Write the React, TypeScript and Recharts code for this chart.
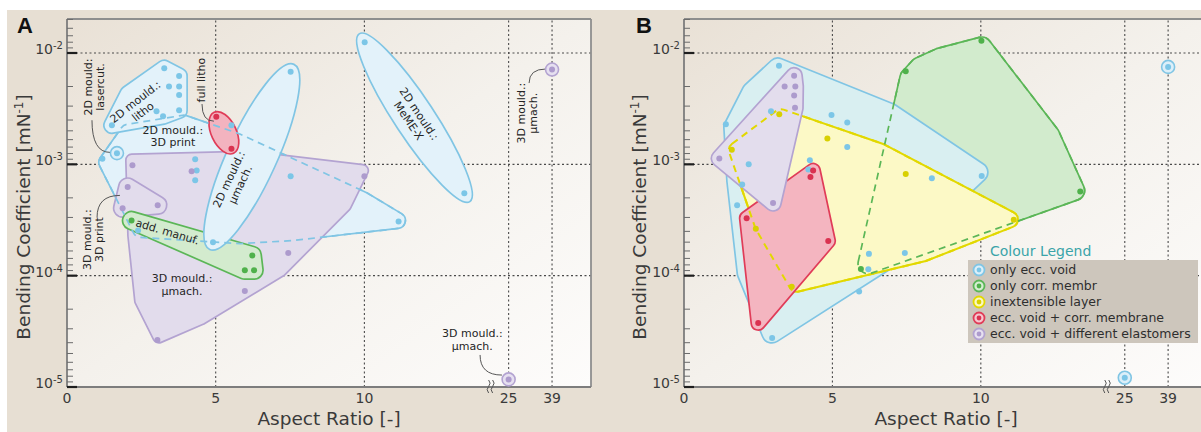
import React from 'react';
import { ScatterChart, Scatter, XAxis, YAxis, ReferenceLine, ReferenceArea, Legend } from 'recharts';

type P = { x: number; y: number };

const FONT = '"DejaVu Sans", Verdana, sans-serif';

// ---------- axes ----------
const X_TICK_LABELS = [0, 5, 10, 25, 39];
const X_GRID = [5, 10, 25, 39];
const Y_MAJOR = [1e-5, 1e-4, 1e-3, 1e-2];
const Y_MINOR_DIVISORS = [2, 3, 4, 5, 6, 7, 8, 9];
const Y_GRID = [1e-4, 1e-3, 1e-2];
const Y_MIN = 1e-5;
const Y_MAX = 0.0202;
const X_MAX = 17.62; // axis units (broken axis)

// broken x axis: 0..14 linear, then compressed to reach 25 and 39
function ax(x: number): number {
  if (x <= 14) return x;
  if (x <= 25) return 14 + ((x - 14) * 0.85) / 11;
  return 14.85 + ((x - 25) * 1.46) / 14;
}

const Y_TICKS: number[] = (() => {
  const t: number[] = [...Y_MAJOR];
  [1e-4, 1e-3, 1e-2, 1e-1].forEach((top) =>
    Y_MINOR_DIVISORS.forEach((k) => {
      const v = top / k;
      if (v > Y_MIN * 1.0001 && v < Y_MAX) t.push(v);
    })
  );
  return t.sort((a, b) => a - b);
})();

// ---------- panel A data ----------
const A_LITHO_DOTS: P[] = [
  { x: 3.27, y: 7.3e-3 }, { x: 3.77, y: 6.2e-3 }, { x: 3.43, y: 5.0e-3 }, { x: 3.77, y: 5.0e-3 },
  { x: 3.77, y: 4.2e-3 }, { x: 3.77, y: 3.06e-3 }, { x: 3.01, y: 3.0e-3 }, { x: 3.23, y: 2.7e-3 },
  { x: 1.51, y: 2.24e-3 },
];
const A_LITHO_EXTRA: P[] = [{ x: 2.05, y: 4.3e-3 }, { x: 1.75, y: 3.0e-3 }];
const A_PRINT_DOTS: P[] = [
  { x: 1.19, y: 1.12e-3 }, { x: 4.31, y: 1.11e-3 }, { x: 4.36, y: 8.8e-4 }, { x: 4.31, y: 7.2e-4 },
  { x: 7.52, y: 7.8e-4 }, { x: 11.15, y: 3.06e-4 }, { x: 2.39, y: 2.54e-4 },
];
const A_UMACH2D_AXIS: P[] = [{ x: 7.52, y: 6.8e-3 }, { x: 4.91, y: 2.0e-4 }];
const A_UMACH2D_EXTRA_DOTS: P[] = [{ x: 5.53, y: 2.24e-3 }];
const A_MEMEX_AXIS: P[] = [{ x: 10.01, y: 1.25e-2 }, { x: 13.36, y: 5.5e-4 }];
const A_FULLLITHO_AXIS: P[] = [{ x: 5.02, y: 2.67e-3 }, { x: 5.53, y: 1.38e-3 }];
const A_UMACH3D_DOTS: P[] = [
  { x: 2.2, y: 9.8e-4 }, { x: 4.19, y: 8.65e-4 }, { x: 10.0, y: 7.8e-4 }, { x: 7.44, y: 1.6e-4 },
  { x: 5.98, y: 7.3e-5 }, { x: 3.04, y: 2.65e-5 },
];
const A_PRINT3D_DOTS: P[] = [{ x: 2.04, y: 6.25e-4 }, { x: 1.87, y: 4.04e-4 }, { x: 3.05, y: 4.3e-4 }];
const A_ADDMANUF_DOTS: P[] = [
  { x: 2.17, y: 3.13e-4 }, { x: 6.23, y: 1.52e-4 }, { x: 5.98, y: 1.12e-4 }, { x: 6.29, y: 1.12e-4 },
];
const A_LASERCUT_RING: P[] = [{ x: 1.68, y: 1.26e-3 }];
const A_UMACH3D_RINGS: P[] = [{ x: 39, y: 7.1e-3 }, { x: 25, y: 1.17e-5 }];

// outlines of the grouping regions (anchor points)
const A_PRINT_OUTLINE: P[] = [
  { x: 1.34, y: 1.04e-3 }, { x: 2.05, y: 1.94e-3 }, { x: 3.93, y: 2.34e-3 }, { x: 5.7, y: 1.61e-3 },
  { x: 9.93, y: 4.84e-4 }, { x: 11.11, y: 3.13e-4 }, { x: 7.58, y: 2.44e-4 }, { x: 5.84, y: 2.29e-4 },
  { x: 2.48, y: 2.6e-4 },
];
const A_UMACH3D_OUTLINE: P[] = [
  { x: 2.18, y: 1.09e-3 }, { x: 6.17, y: 1.16e-3 }, { x: 9.93, y: 8.8e-4 }, { x: 9.36, y: 4.28e-4 },
  { x: 7.18, y: 1.11e-4 }, { x: 4.5, y: 4.1e-5 }, { x: 3.09, y: 2.82e-5 }, { x: 2.48, y: 5.96e-5 },
  { x: 2.25, y: 2.29e-4 },
];

const A_LABELS = [
  { x: 0.91, y: 4.95e-3, rot: -90, lines: ['2D mould:', 'lasercut.'] },
  { x: 2.42, y: 3.3e-3, rot: -38, lines: ['2D mould.:', 'litho'] },
  { x: 4.51, y: 5.71e-3, rot: -90, lines: ['full litho'] },
  { x: 3.56, y: 1.79e-3, rot: 0, lines: ['2D mould.:', '3D print'] },
  { x: 5.63, y: 6.95e-4, rot: -65, lines: ['2D mould.:', 'µmach.'] },
  { x: 11.67, y: 2.65e-3, rot: 56, lines: ['2D mould.:', 'MeME-X'] },
  { x: 30.9, y: 2.88e-3, rot: -90, lines: ['3D mould.:', 'µmach.'] },
  { x: 13.63, y: 2.67e-5, rot: 0, lines: ['3D mould.:', 'µmach.'] },
  { x: 0.87, y: 2.11e-4, rot: -90, lines: ['3D mould.:', '3D print'] },
  { x: 3.38, y: 2.49e-4, rot: 16.5, lines: ['add. manuf.'] },
  { x: 3.87, y: 8.37e-5, rot: 0, lines: ['3D mould.:', 'µmach.'] },
];
const A_LEADERS: P[][] = [
  [{ x: 0.84, y: 2.49e-3 }, { x: 1.45, y: 1.28e-3 }],
  [{ x: 4.54, y: 3.48e-3 }, { x: 4.94, y: 2.44e-3 }],
  [{ x: 31.6, y: 5.37e-3 }, { x: 37.0, y: 7.18e-3 }],
  [{ x: 13.89, y: 1.94e-5 }, { x: 22.1, y: 1.28e-5 }],
  [{ x: 1.01, y: 3.33e-4 }, { x: 1.78, y: 5.26e-4 }],
];

// ---------- panel B data ----------
const B_ECC_DOTS: P[] = [
  { x: 3.2, y: 7.7e-3 }, { x: 1.41, y: 2.29e-3 }, { x: 2.93, y: 3.0e-3 }, { x: 4.97, y: 2.78e-3 },
  { x: 5.5, y: 2.38e-3 }, { x: 5.5, y: 1.43e-3 }, { x: 2.18, y: 1.0e-3 }, { x: 4.24, y: 1.09e-3 },
  { x: 4.19, y: 9.0e-4 }, { x: 1.96, y: 6.6e-4 }, { x: 1.79, y: 4.3e-4 }, { x: 8.35, y: 7.5e-4 },
  { x: 10.03, y: 7.85e-4 }, { x: 6.23, y: 1.57e-4 }, { x: 7.44, y: 1.6e-4 }, { x: 6.21, y: 1.14e-4 },
  { x: 5.9, y: 7.2e-5 }, { x: 2.97, y: 2.76e-5 },
];
const B_ECC_RINGS: P[] = [{ x: 39, y: 7.5e-3 }, { x: 25, y: 1.21e-5 }];
const B_INEXT_DOTS: P[] = [
  { x: 3.21, y: 2.82e-3 }, { x: 1.61, y: 1.35e-3 }, { x: 4.83, y: 1.71e-3 }, { x: 7.47, y: 8.2e-4 },
  { x: 2.42, y: 2.64e-4 }, { x: 3.63, y: 7.96e-5 }, { x: 11.11, y: 3.18e-4 },
];
const B_MEMBR_DOTS: P[] = [
  { x: 10.02, y: 1.29e-2 }, { x: 7.47, y: 6.84e-3 }, { x: 13.35, y: 5.7e-4 }, { x: 5.96, y: 1.15e-4 },
];
const B_ECCMEMBR_DOTS: P[] = [
  { x: 4.35, y: 8.8e-4 }, { x: 4.26, y: 7.7e-4 }, { x: 2.11, y: 3.28e-4 }, { x: 4.86, y: 2.05e-4 },
  { x: 2.5, y: 3.75e-5 },
];
const B_ELAST_DOTS: P[] = [
  { x: 3.71, y: 6.25e-3 }, { x: 3.39, y: 5.0e-3 }, { x: 3.75, y: 5.0e-3 }, { x: 3.71, y: 4.16e-3 },
  { x: 3.74, y: 3.22e-3 }, { x: 1.19, y: 1.13e-3 }, { x: 3.0, y: 4.5e-4 },
];
const B_ECC_OUTLINE: P[] = [
  { x: 1.68, y: 2.15e-3 }, { x: 2.29, y: 4.46e-3 }, { x: 3.16, y: 7.32e-3 }, { x: 6.94, y: 2.87e-3 },
  { x: 9.9, y: 8.47e-4 }, { x: 6.67, y: 1.31e-4 }, { x: 2.96, y: 3.06e-5 }, { x: 2.13, y: 1.06e-4 },
  { x: 1.78, y: 7.18e-4 },
];
const B_MEMBR_OUTLINE: P[] = [
  { x: 10.03, y: 1.13e-2 }, { x: 12.32, y: 1.82e-3 }, { x: 13.16, y: 5.83e-4 }, { x: 6.2, y: 1.28e-4 },
  { x: 7.61, y: 5.96e-3 }, { x: 7.95, y: 7.48e-3 }, { x: 8.62, y: 9.0e-3 },
];
const B_INEXT_OUTLINE: P[] = [
  { x: 1.78, y: 1.34e-3 }, { x: 3.27, y: 2.65e-3 }, { x: 6.6, y: 1.31e-3 }, { x: 10.98, y: 3.2e-4 },
  { x: 8.05, y: 1.58e-4 }, { x: 3.8, y: 8.47e-5 }, { x: 2.66, y: 2.82e-4 },
];

const LEGEND_LABELS = [
  'only ecc. void',
  'only corr. membr',
  'inextensible layer',
  'ecc. void + corr. membrane',
  'ecc. void + different elastomers',
];

// ---------- colours ----------
const COL = {
  blue: { dot: '#7cc6e7', line: '#80c5e4', fillA: '#e3f2fa', fillB: '#d9eff1', pale: '#dceff9' },
  purple: { dot: '#ad9bcd', line: '#b3a3d1', fillA: '#e2dcec', fillB: '#e3dded', pale: '#e6e0f0' },
  green: { dot: '#4fb14b', line: '#5bb657', fillA: '#d3ebce', fillB: '#d2ebcd', pale: '#d6eed2' },
  red: { dot: '#da3250', line: '#e03c58', fillA: '#f3b3bf', fillB: '#f4b5c0', pale: '#f6c6cf' },
  yellow: { dot: '#d8d000', line: '#e2d800', fillA: '#fcf9c6', fillB: '#fcf9c6', pale: '#fbf8c0' },
};
const LEGEND_COLS = [COL.blue, COL.green, COL.yellow, COL.red, COL.purple];

// ---------- geometry helpers ----------
function convexHull(pts: P[]): P[] {
  const p = [...pts].sort((a, b) => a.x - b.x || a.y - b.y);
  const u: P[] = [];
  p.forEach((q) => {
    const l = u[u.length - 1];
    if (!l || Math.abs(l.x - q.x) > 1e-6 || Math.abs(l.y - q.y) > 1e-6) u.push(q);
  });
  if (u.length < 3) return u;
  const cross = (o: P, a: P, b: P) => (a.x - o.x) * (b.y - o.y) - (a.y - o.y) * (b.x - o.x);
  const lower: P[] = [];
  for (const q of u) {
    while (lower.length >= 2 && cross(lower[lower.length - 2], lower[lower.length - 1], q) <= 0) lower.pop();
    lower.push(q);
  }
  const upper: P[] = [];
  for (let i = u.length - 1; i >= 0; i--) {
    const q = u[i];
    while (upper.length >= 2 && cross(upper[upper.length - 2], upper[upper.length - 1], q) <= 0) upper.pop();
    upper.push(q);
  }
  lower.pop();
  upper.pop();
  return lower.concat(upper);
}

function roundedHullPath(pts: P[], r: number): string {
  const h = convexHull(pts);
  if (!h.length) return '';
  if (h.length === 1) {
    const c = h[0];
    return `M${c.x - r},${c.y} a${r},${r} 0 1 0 ${2 * r},0 a${r},${r} 0 1 0 ${-2 * r},0Z`;
  }
  const n = h.length;
  const normals = h.map((a, i) => {
    const b = h[(i + 1) % n];
    const dx = b.x - a.x;
    const dy = b.y - a.y;
    const L = Math.hypot(dx, dy) || 1;
    return { x: dy / L, y: -dx / L };
  });
  let d = '';
  for (let i = 0; i < n; i++) {
    const a = h[i];
    const b = h[(i + 1) % n];
    const nn = normals[i];
    const nx = normals[(i + 1) % n];
    if (i === 0) d += `M${(a.x + nn.x * r).toFixed(2)},${(a.y + nn.y * r).toFixed(2)}`;
    d += `L${(b.x + nn.x * r).toFixed(2)},${(b.y + nn.y * r).toFixed(2)}`;
    d += `A${r},${r} 0 0 1 ${(b.x + nx.x * r).toFixed(2)},${(b.y + nx.y * r).toFixed(2)}`;
  }
  return d + 'Z';
}

const RegionShape = (props: any) => {
  const pts: P[] = (props.points || []).filter(
    (p: any) => p && Number.isFinite(p.x) && Number.isFinite(p.y)
  );
  if (!pts.length) return null;
  const common = {
    fill: props.hFill,
    stroke: props.hStroke,
    strokeWidth: props.hW,
    strokeDasharray: props.hDash,
  };
  if (props.kind === 'ellipse' && pts.length >= 2) {
    const [a, b] = pts;
    const cx = (a.x + b.x) / 2;
    const cy = (a.y + b.y) / 2;
    const rx = Math.hypot(b.x - a.x, b.y - a.y) / 2 + props.pad;
    const ang = (Math.atan2(b.y - a.y, b.x - a.x) * 180) / Math.PI;
    return <ellipse cx={cx} cy={cy} rx={rx} ry={props.semi} transform={`rotate(${ang} ${cx} ${cy})`} {...common} />;
  }
  return <path d={roundedHullPath(pts, props.rad)} {...common} />;
};

const LeaderPath = (props: any) => {
  const pts = props.points || [];
  if (pts.length < 2) return null;
  const [a, b] = pts;
  return <path d={`M${a.x},${a.y} Q${a.x},${b.y} ${b.x},${b.y}`} fill="none" stroke="#555" strokeWidth={1} />;
};

const NoShape = () => <g />;

const AnnShape = (props: any) => {
  const { cx, cy, payload } = props;
  const lines: string[] = payload.lines || [];
  const lh = 12.5;
  return (
    <text
      transform={`rotate(${payload.rot} ${cx} ${cy})`}
      fontFamily={FONT}
      fontSize={11}
      fill="#252525"
      textAnchor="middle"
    >
      {lines.map((l, i) => (
        <tspan key={i} x={cx} y={cy + (i - (lines.length - 1) / 2) * lh + 4}>
          {l}
        </tspan>
      ))}
    </text>
  );
};

const toAxis = (pts: P[]) => pts.map((p) => ({ x: ax(p.x), y: p.y }));

function region(key: string, pts: P[], opts: any) {
  return (
    <Scatter
      key={key}
      data={toAxis(pts)}
      shape={NoShape}
      isAnimationActive={false}
      line={
        <RegionShape
          kind={opts.kind || 'hull'}
          rad={opts.rad ?? 8}
          semi={opts.semi ?? 10}
          pad={opts.pad ?? 8}
          hFill={opts.fill}
          hStroke={opts.stroke}
          hDash={opts.dash}
          hW={opts.sw ?? 1.7}
        />
      }
    />
  );
}

function dots(key: string, pts: P[], color: string) {
  return (
    <Scatter
      key={key}
      data={toAxis(pts)}
      isAnimationActive={false}
      shape={(s: any) => <circle cx={s.cx} cy={s.cy} r={3} fill={color} />}
    />
  );
}

function rings(key: string, pts: P[], c: any) {
  return (
    <Scatter
      key={key}
      data={toAxis(pts)}
      isAnimationActive={false}
      shape={(s: any) => (
        <g>
          <circle cx={s.cx} cy={s.cy} r={6.5} fill={c.pale} stroke={c.line} strokeWidth={1.6} />
          <circle cx={s.cx} cy={s.cy} r={3} fill={c.dot} />
        </g>
      )}
    />
  );
}

function leaders(prefix: string, list: P[][]) {
  return list.map((l, i) => (
    <Scatter key={prefix + i} data={toAxis(l)} shape={NoShape} isAnimationActive={false} line={<LeaderPath />} />
  ));
}

// ---------- axes ----------
const YTick = (props: any) => {
  const { x, y, payload } = props;
  const v = payload.value;
  const major = Y_MAJOR.some((m) => Math.abs(m - v) / m < 1e-6);
  const e = Math.round(Math.log10(v));
  return (
    <g>
      <line
        x1={x}
        x2={x + (major ? 10 : 6)}
        y1={y}
        y2={y}
        stroke={major ? '#1e1e1e' : '#6b6b6b'}
        strokeWidth={major ? 2.2 : 1}
      />
      {major && (
        <text x={x - 4} y={y + 1} textAnchor="end" fontFamily={FONT} fill="#3a3a3a">
          <tspan fontSize={14}>10</tspan>
          <tspan fontSize={10} dy={-5}>
            {String(e)}
          </tspan>
        </text>
      )}
    </g>
  );
};

const XTick = (props: any) => {
  const { x, y, payload } = props;
  const idx = X_TICK_LABELS.findIndex((v) => Math.abs(ax(v) - payload.value) < 1e-6);
  const label = idx >= 0 ? X_TICK_LABELS[idx] : '';
  return (
    <g>
      <text x={x} y={y + 15.5} textAnchor="middle" fontFamily={FONT} fontSize={14} fill="#3a3a3a">
        {label}
      </text>
      {label === 25 && (
        <path
          d={`M${x - 20},${y - 7} q3,3 0,6.5 q-3,3 0,6.5 M${x - 16},${y - 7} q3,3 0,6.5 q-3,3 0,6.5`}
          fill="none"
          stroke="#555"
          strokeWidth={1}
        />
      )}
    </g>
  );
};

const Titles = ({ letter, lx, yx, xx }: any) => (
  <g fontFamily={FONT} fill="#3a3a3a">
    <text x={lx} y={33} fontFamily='"Liberation Sans", Arial, sans-serif' fontWeight="bold" fontSize={22} fill="#111">
      {letter}
    </text>
    <text x={yx} y={217} transform={`rotate(-90 ${yx} 217)`} textAnchor="middle" fontSize={18.5}>
      Bending Coefficient [mN
      <tspan fontSize={12} dy={-7}>
        -1
      </tspan>
      <tspan dy={7}>]</tspan>
    </text>
    <text x={xx} y={425} textAnchor="middle" fontSize={18.5}>
      Aspect Ratio [-]
    </text>
  </g>
);

function frame(yWidth: number, titles: any) {
  const axisLine = { stroke: '#7d7d7d', strokeWidth: 1.8 };
  return [
    <XAxis
      key="xa"
      type="number"
      dataKey="x"
      domain={[0, X_MAX]}
      allowDataOverflow
      ticks={X_TICK_LABELS.map(ax)}
      interval={0}
      tick={XTick}
      tickSize={0}
      tickMargin={0}
      tickLine={false}
      axisLine={axisLine}
      height={45}
    />,
    <YAxis
      key="ya"
      type="number"
      dataKey="y"
      scale="log"
      domain={[Y_MIN, Y_MAX]}
      allowDataOverflow
      ticks={Y_TICKS}
      interval={0}
      tick={YTick}
      tickSize={0}
      tickMargin={0}
      tickLine={false}
      axisLine={axisLine}
      width={yWidth}
      label={{ content: () => titles }}
    />,
    <ReferenceArea
      key="bg"
      x1={0}
      x2={X_MAX}
      y1={Y_MIN}
      y2={Y_MAX}
      fill="url(#plotBg)"
      fillOpacity={1}
      stroke="none"
      ifOverflow="visible"
    />,
    ...X_GRID.map((v) => (
      <ReferenceLine key={'gx' + v} x={ax(v)} stroke="#4a4a4a" strokeDasharray="2 2.5" strokeWidth={1.1} />
    )),
    ...Y_GRID.map((v) => (
      <ReferenceLine key={'gy' + v} y={v} stroke="#4a4a4a" strokeDasharray="2 2.5" strokeWidth={1.1} />
    )),
    <ReferenceLine key="top" y={Y_MAX} stroke="#8e8e8e" strokeWidth={1.8} />,
    <ReferenceLine key="right" x={X_MAX} stroke="#8e8e8e" strokeWidth={1.8} />,
  ];
}

const LegendBox = () => (
  <div style={{ fontFamily: FONT }}>
    <div style={{ color: '#3aa4a9', fontSize: 14, marginLeft: 22, lineHeight: '17px', height: 17, whiteSpace: 'nowrap' }}>
      Colour Legend
    </div>
    <div style={{ background: '#cdc6bc', width: 230, padding: '2px 0 1px 0' }}>
      {LEGEND_LABELS.map((l, i) => {
        const c = LEGEND_COLS[i];
        return (
          <div key={i} style={{ display: 'flex', alignItems: 'center', height: 16 }}>
            <svg width={22} height={16} style={{ flex: 'none' }}>
              <circle cx={11} cy={8} r={5.5} fill={c.pale} stroke={c.line} strokeWidth={1.8} />
              <circle cx={11} cy={8} r={2.4} fill={c.dot} />
            </svg>
            <span style={{ fontSize: 12.5, color: '#2e2e2e', whiteSpace: 'nowrap', lineHeight: '16px' }}>{l}</span>
          </div>
        );
      })}
    </div>
  </div>
);

export default function App() {
  return (
    <div
      style={{
        position: 'absolute',
        left: 0,
        top: 0,
        width: 1201,
        height: 432,
        overflow: 'hidden',
        background: '#ffffff',
      }}
    >
      <svg width={0} height={0} style={{ position: 'absolute' }}>
        <defs>
          <linearGradient id="plotBg" x1="0" y1="0" x2="1" y2="1">
            <stop offset="0" stopColor="#e9e1d6" />
            <stop offset="0.5" stopColor="#f4f1ec" />
            <stop offset="1" stopColor="#fdfcfb" />
          </linearGradient>
        </defs>
      </svg>
      <div style={{ position: 'absolute', left: 7, top: 10, right: 0, bottom: 0, background: '#e7dfd3' }} />

      {/* Panel A */}
      <div style={{ position: 'absolute', left: 0, top: 0 }}>
        <ScatterChart width={600} height={432} margin={{ top: 19, right: 9, bottom: 0, left: 0 }}>
          {frame(67, <Titles letter="A" lx={17} yx={29.5} xx={329} />)}
          {region('a-print', A_PRINT_OUTLINE, { rad: 8, fill: COL.blue.fillA, stroke: COL.blue.line })}
          {region('a-litho', [...A_LITHO_DOTS, ...A_LITHO_EXTRA], { rad: 8, fill: COL.blue.fillA, stroke: COL.blue.line })}
          {region('a-um3d', A_UMACH3D_OUTLINE, { rad: 6, fill: COL.purple.fillA, stroke: COL.purple.line })}
          {region('a-pr3d', A_PRINT3D_DOTS, { rad: 9, fill: COL.purple.fillA, stroke: COL.purple.line })}
          {region('a-add', A_ADDMANUF_DOTS, { rad: 9, fill: COL.green.fillA, stroke: COL.green.line })}
          {region('a-um2d', A_UMACH2D_AXIS, { kind: 'ellipse', pad: 8, semi: 25, fill: COL.blue.fillA, stroke: COL.blue.line })}
          {region('a-full', A_FULLLITHO_AXIS, { kind: 'ellipse', pad: 5, semi: 12.5, fill: COL.red.fillA, stroke: COL.red.line })}
          {region('a-meme', A_MEMEX_AXIS, { kind: 'ellipse', pad: 10, semi: 20, fill: COL.blue.fillA, stroke: COL.blue.line })}
          {region('a-print-dash', A_PRINT_OUTLINE, { rad: 8, fill: 'none', stroke: COL.blue.line, dash: '7 5' })}
          {leaders('a-lead', A_LEADERS)}
          {dots('a-d-litho', A_LITHO_DOTS, COL.blue.dot)}
          {dots('a-d-print', A_PRINT_DOTS, COL.blue.dot)}
          {dots('a-d-um2d', A_UMACH2D_AXIS, COL.blue.dot)}
          {dots('a-d-um2dx', A_UMACH2D_EXTRA_DOTS, COL.blue.dot)}
          {dots('a-d-meme', A_MEMEX_AXIS, COL.blue.dot)}
          {dots('a-d-um3d', A_UMACH3D_DOTS, COL.purple.dot)}
          {dots('a-d-pr3d', A_PRINT3D_DOTS, COL.purple.dot)}
          {dots('a-d-add', A_ADDMANUF_DOTS, COL.green.dot)}
          {dots('a-d-full', A_FULLLITHO_AXIS, COL.red.dot)}
          {rings('a-r-laser', A_LASERCUT_RING, COL.blue)}
          {rings('a-r-um3d', A_UMACH3D_RINGS, COL.purple)}
          <Scatter
            key="a-labels"
            data={A_LABELS.map((l) => ({ x: ax(l.x), y: l.y, lines: l.lines, rot: l.rot }))}
            shape={AnnShape}
            isAnimationActive={false}
          />
        </ScatterChart>
      </div>

      {/* Panel B */}
      <div style={{ position: 'absolute', left: 600, top: 0 }}>
        <ScatterChart width={620} height={432} margin={{ top: 19, right: 13, bottom: 0, left: 0 }}>
          {frame(84, <Titles letter="B" lx={36} yx={46} xx={346} />)}
          {region('b-membr', B_MEMBR_OUTLINE, { rad: 10, fill: COL.green.fillB, stroke: COL.green.line })}
          {region('b-ecc', B_ECC_OUTLINE, { rad: 10, fill: COL.blue.fillB, stroke: COL.blue.line })}
          {region('b-inext', B_INEXT_OUTLINE, { rad: 8, fill: COL.yellow.fillB, stroke: COL.yellow.line, sw: 2 })}
          {region('b-eccm', B_ECCMEMBR_DOTS, { rad: 7, fill: COL.red.fillB, stroke: COL.red.line })}
          {region('b-elast', B_ELAST_DOTS, { rad: 8, fill: COL.purple.fillB, stroke: COL.purple.line })}
          {region('b-inext-dash', B_INEXT_OUTLINE, { rad: 8, fill: 'none', stroke: COL.yellow.line, dash: '7 5', sw: 2 })}
          {region('b-membr-dash', B_MEMBR_OUTLINE, { rad: 10, fill: 'none', stroke: COL.green.line, dash: '7 5' })}
          {dots('b-d-ecc', B_ECC_DOTS, COL.blue.dot)}
          {dots('b-d-inext', B_INEXT_DOTS, COL.yellow.dot)}
          {dots('b-d-membr', B_MEMBR_DOTS, COL.green.dot)}
          {dots('b-d-eccm', B_ECCMEMBR_DOTS, COL.red.dot)}
          {dots('b-d-elast', B_ELAST_DOTS, COL.purple.dot)}
          {rings('b-r-ecc', B_ECC_RINGS, COL.blue)}
          <Legend
            layout="vertical"
            align="center"
            verticalAlign="middle"
            wrapperStyle={{ left: 368, top: 243, width: 232 }}
            content={() => <LegendBox />}
          />
        </ScatterChart>
      </div>
    </div>
  );
}
